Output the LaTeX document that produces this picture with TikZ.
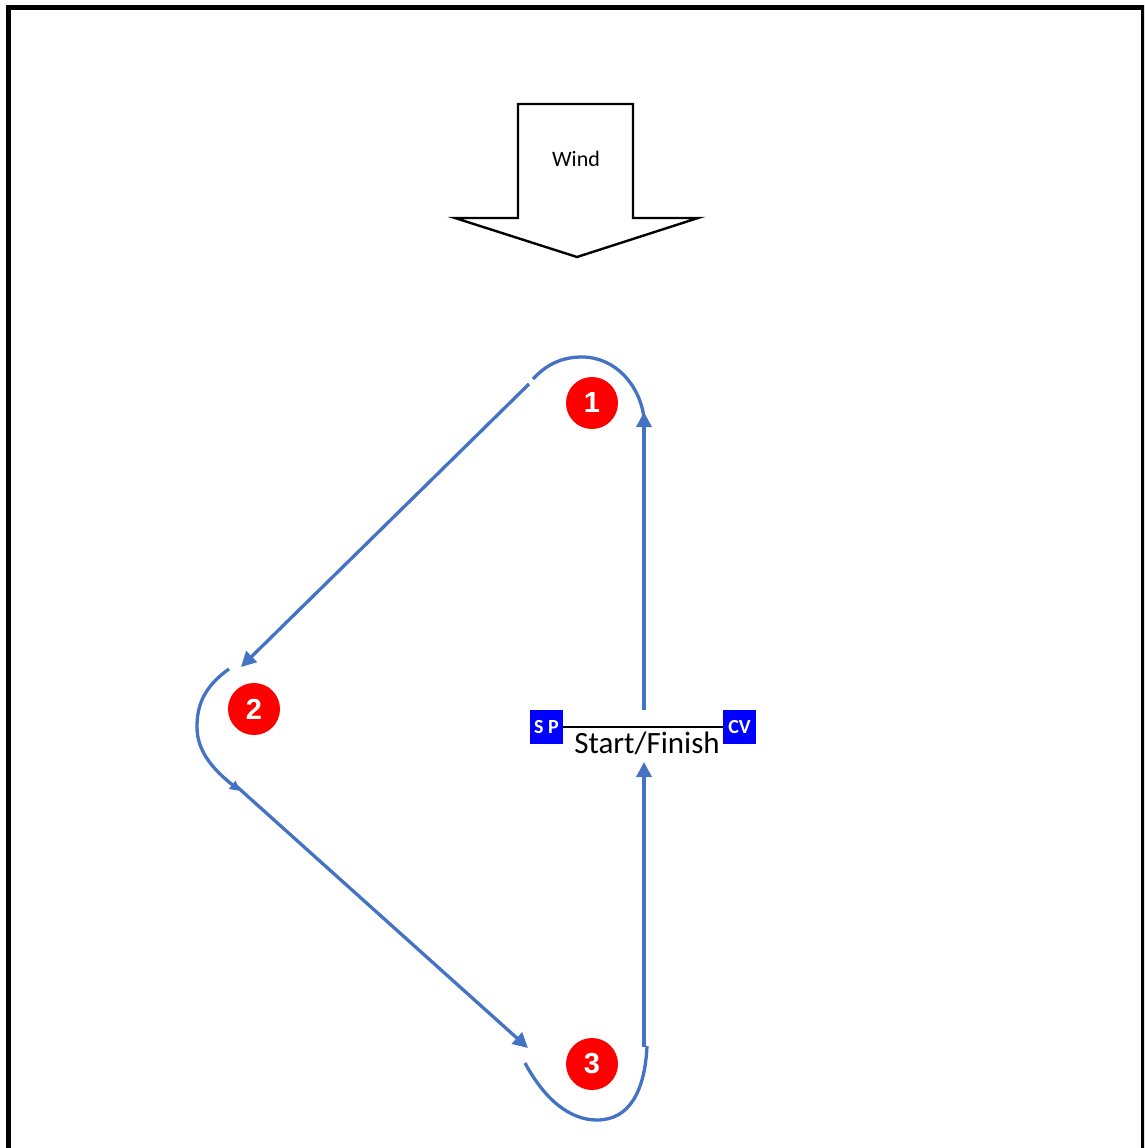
\documentclass[tikz,border=0pt]{standalone}
\usepackage{fontspec}
\setmainfont{Carlito}
\newfontfamily\markfont{Liberation Sans}
\usetikzlibrary{arrows.meta}
\definecolor{course}{RGB}{68,114,196}
\definecolor{markred}{RGB}{255,0,0}
\definecolor{boatblue}{RGB}{0,0,255}
\begin{document}
\begin{tikzpicture}[x=1pt,y=-1pt,
  leg/.style={draw=course,line width=3.3pt},
  legarrow/.style={leg,-{Triangle[length=15pt,width=15pt]}},
  roundarrow/.style={leg,-{Triangle[length=10pt,width=10pt]}},
  buoy/.style={circle,fill=markred,minimum size=52pt,inner sep=0pt,text=white,font=\markfont\bfseries\fontsize{29}{29}\selectfont},
  boat/.style={fill=boatblue,minimum width=33pt,minimum height=34pt,inner sep=0pt,text=white,font=\bfseries\fontsize{20}{20}\selectfont}]
\useasboundingbox (0,0) rectangle (1144,1148);
\begin{scope}
\clip (0,0) rectangle (1144,1148);
\draw[line width=5.5pt] (8.5,7.5) rectangle (1143.5,1160);
\end{scope}
% wind arrow
\draw[line width=2.4pt,line join=miter] (518,104) -- (633,104) -- (633,218) -- (698,218) -- (577,257) -- (455,218) -- (518,218) -- cycle;
\node[anchor=base,inner sep=0pt,font=\fontsize{22}{22}\selectfont] (wind) at (576,166) {Wind};
% marks
\node[buoy] (m1) at (592,403) {1};
\node[buoy] (m2) at (254,709) {2};
\node[buoy] (m3) at (592,1064) {3};
% start/finish
\node[boat] (sp) at (546.5,727) {S P};
\node[boat] (cv) at (739.5,727) {CV};
\draw[line width=1.8pt] (sp.east) -- (cv.west);
\node[anchor=base,inner sep=0pt,font=\fontsize{31}{31}\selectfont] (sf) at (647,753) {Start/Finish};
% course coordinates
\coordinate (lineN) at (644,710);
\coordinate (lineS) at (644,1047);
\coordinate (oneIn) at (644,412);
\coordinate (oneA) at (644,418);
\coordinate (oneTop) at (582,357);
\coordinate (oneOut) at (533,379);
\coordinate (legTwoStart) at (529,384);
\coordinate (twoIn) at (241,667);
\coordinate (twoA) at (229,669);
\coordinate (twoLeft) at (197,727);
\coordinate (twoOut) at (240,791);
\coordinate (legThreeStart) at (234,784);
\coordinate (threeIn) at (528,1048);
\coordinate (threeA) at (525,1063);
\coordinate (threeBot) at (597,1120);
\coordinate (threeOut) at (647,1046);
\coordinate (finIn) at (644,762);
% legs
\draw[legarrow] (lineN) -- (oneIn);
\draw[leg] (oneA) .. controls (640,385) and (615,357) .. (oneTop) .. controls (560,357) and (545,366) .. (oneOut);
\draw[legarrow] (legTwoStart) -- (twoIn);
\draw[roundarrow] (twoA) .. controls (202,688) and (197,708) .. (twoLeft) .. controls (197,752) and (214,770) .. (twoOut);
\draw[legarrow] (legThreeStart) -- (threeIn);
\draw[leg] (threeA) .. controls (545,1100) and (570,1120) .. (threeBot) .. controls (630,1120) and (645,1090) .. (threeOut);
\draw[legarrow] (lineS) -- (finIn);
\end{tikzpicture}
\end{document}
